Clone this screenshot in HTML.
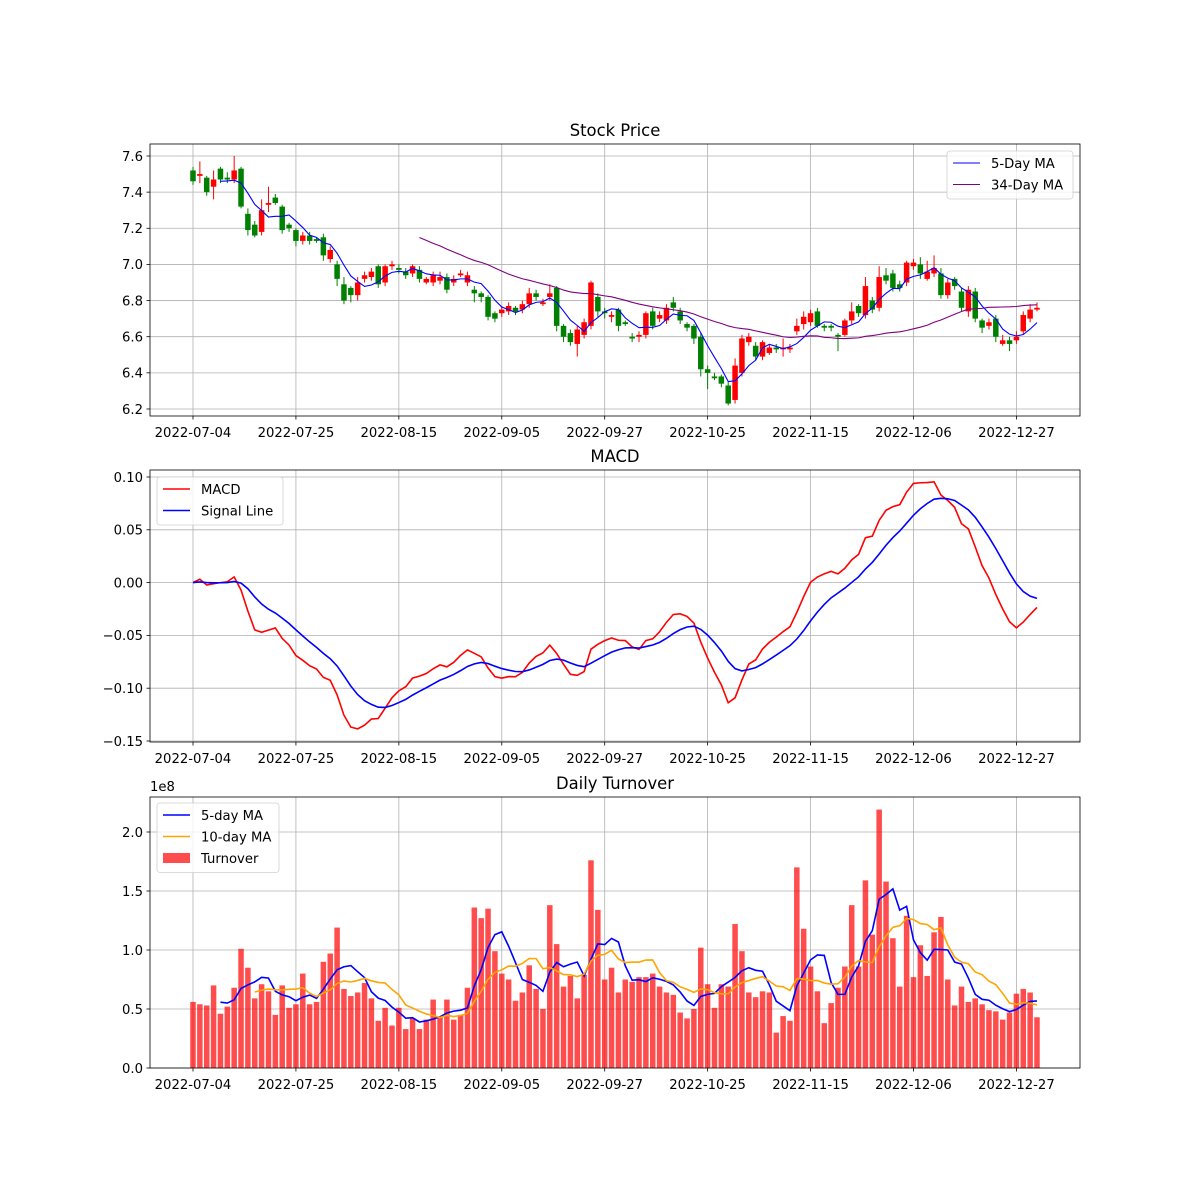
<!DOCTYPE html>
<html><head><meta charset="utf-8"><title>Stock chart</title>
<style>
html,body{margin:0;padding:0;background:#fff;}
svg{display:block;font-family:"DejaVu Sans","Liberation Sans",sans-serif;}
</style></head>
<body>
<svg id="chart" width="1200" height="1200" viewBox="0 0 1200 1200" xmlns="http://www.w3.org/2000/svg"></svg>
<script>
const dateLabels = ["2022-07-04","2022-07-25","2022-08-15","2022-09-05","2022-09-27","2022-10-25","2022-11-15","2022-12-06","2022-12-27"];
const opens = [7.52,7.49,7.48,7.43,7.53,7.48,7.47,7.53,7.28,7.22,
7.18,7.33,7.37,7.32,7.22,7.19,7.13,7.16,7.14,7.15,
7.03,7.00,6.89,6.87,6.83,6.92,6.93,6.99,6.90,6.99,
6.98,6.96,6.95,6.97,6.90,6.90,6.91,6.93,6.90,6.94,
6.90,6.86,6.84,6.82,6.73,6.73,6.74,6.76,6.75,6.78,
6.84,6.78,6.82,6.87,6.66,6.62,6.56,6.61,6.66,6.82,
6.74,6.71,6.75,6.68,6.60,6.60,6.61,6.74,6.70,6.69,
6.79,6.74,6.67,6.66,6.60,6.42,6.38,6.38,6.33,6.25,
6.40,6.57,6.55,6.49,6.51,6.54,6.53,6.53,6.63,6.67,
6.68,6.74,6.66,6.66,6.61,6.61,6.69,6.77,6.72,6.80,
6.76,6.94,6.95,6.89,6.90,6.99,7.00,6.92,6.95,6.95,
6.83,6.92,6.85,6.74,6.85,6.69,6.66,6.70,6.56,6.58,
6.58,6.63,6.70,6.75];
const closes = [7.46,7.50,7.40,7.47,7.47,7.47,7.52,7.32,7.19,7.16,
7.30,7.34,7.34,7.19,7.20,7.13,7.16,7.13,7.13,7.05,
7.08,6.92,6.80,6.83,6.90,6.94,6.96,6.89,6.99,7.00,
6.97,6.94,6.99,6.92,6.92,6.94,6.93,6.86,6.92,6.95,
6.94,6.84,6.82,6.71,6.70,6.75,6.77,6.74,6.78,6.84,
6.82,6.79,6.84,6.66,6.60,6.57,6.64,6.68,6.90,6.74,
6.73,6.72,6.66,6.67,6.59,6.61,6.73,6.66,6.72,6.76,
6.76,6.69,6.65,6.59,6.42,6.40,6.37,6.34,6.23,6.44,
6.59,6.60,6.49,6.57,6.54,6.53,6.54,6.54,6.66,6.71,
6.73,6.66,6.65,6.65,6.60,6.69,6.74,6.73,6.88,6.75,
6.93,6.91,6.87,6.87,7.01,7.01,6.95,6.96,6.98,6.83,
6.90,6.88,6.76,6.86,6.70,6.65,6.68,6.60,6.58,6.56,
6.60,6.72,6.75,6.76];
const highs = [7.54,7.57,7.49,7.52,7.54,7.51,7.60,7.54,7.31,7.24,
7.36,7.43,7.39,7.33,7.23,7.20,7.18,7.18,7.15,7.17,
7.10,7.02,6.93,6.88,6.93,6.96,6.98,7.00,7.00,7.02,
7.00,6.98,7.00,6.99,6.93,6.96,6.96,6.95,6.94,6.97,
6.96,6.88,6.85,6.83,6.74,6.77,6.79,6.77,6.80,6.87,
6.86,6.81,6.89,6.88,6.67,6.64,6.66,6.70,6.91,6.84,
6.76,6.74,6.76,6.69,6.62,6.63,6.74,6.76,6.74,6.78,
6.82,6.76,6.68,6.67,6.62,6.44,6.40,6.39,6.35,6.48,
6.61,6.62,6.57,6.58,6.56,6.56,6.59,6.56,6.70,6.74,
6.75,6.76,6.67,6.67,6.62,6.70,6.79,6.78,6.93,6.82,
6.99,6.98,6.97,6.91,7.02,7.03,7.04,7.02,7.05,6.98,
6.92,6.93,6.87,6.88,6.87,6.70,6.70,6.72,6.61,6.60,
6.63,6.74,6.78,6.79];
const lows = [7.44,7.45,7.38,7.36,7.45,7.45,7.45,7.31,7.16,7.15,
7.16,7.29,7.33,7.17,7.18,7.10,7.11,7.11,7.12,7.02,
7.01,6.88,6.78,6.79,6.80,6.90,6.91,6.87,6.88,6.97,
6.95,6.92,6.93,6.90,6.89,6.88,6.89,6.84,6.88,6.93,
6.88,6.79,6.79,6.69,6.68,6.71,6.72,6.72,6.73,6.76,
6.80,6.77,6.80,6.63,6.57,6.55,6.49,6.59,6.64,6.71,
6.70,6.68,6.63,6.66,6.57,6.57,6.59,6.64,6.68,6.67,
6.74,6.67,6.63,6.56,6.38,6.31,6.36,6.32,6.22,6.23,
6.38,6.55,6.47,6.47,6.50,6.51,6.49,6.51,6.61,6.64,
6.66,6.65,6.63,6.63,6.52,6.60,6.67,6.71,6.70,6.73,
6.74,6.89,6.85,6.85,6.88,6.97,6.92,6.91,6.93,6.81,
6.81,6.86,6.74,6.71,6.68,6.62,6.64,6.57,6.55,6.52,
6.56,6.61,6.68,6.74];
const turnover = [0.56,0.54,0.53,0.70,0.46,0.52,0.68,1.01,0.85,0.59,
0.71,0.65,0.45,0.70,0.51,0.54,0.80,0.54,0.56,0.90,
0.97,1.19,0.67,0.61,0.64,0.72,0.59,0.40,0.51,0.36,
0.51,0.33,0.42,0.33,0.41,0.58,0.43,0.58,0.41,0.45,
0.68,1.36,1.27,1.35,0.99,0.80,0.75,0.57,0.64,0.87,
0.67,0.50,1.38,1.05,0.69,0.78,0.59,0.79,1.76,1.34,
0.75,0.85,0.64,0.75,0.73,0.77,0.77,0.80,0.69,0.64,
0.62,0.47,0.42,0.50,1.02,0.71,0.51,0.71,0.69,1.22,
0.99,0.64,0.60,0.65,0.64,0.30,0.44,0.40,1.70,1.18,
0.86,0.65,0.38,0.55,0.68,0.86,1.38,0.86,1.59,1.13,
2.19,1.58,1.10,0.69,1.29,0.77,1.04,0.78,1.15,1.28,
0.75,0.53,0.69,0.56,0.59,0.54,0.49,0.48,0.41,0.47,
0.63,0.67,0.64,0.43];
const priceTicks = [6.2,6.4,6.6,6.8,7.0,7.2,7.4,7.6];
const macdTicks = [-0.15,-0.10,-0.05,0.00,0.05,0.10];
const turnTicks = [0.0,0.5,1.0,1.5,2.0];

const svg = document.getElementById('chart');
const NS = 'http://www.w3.org/2000/svg';
function mk(tag, attrs, parent){
  const e = document.createElementNS(NS, tag);
  for (const k in attrs) e.setAttribute(k, attrs[k]);
  (parent||svg).appendChild(e);
  return e;
}
const L = 150, R = 1080;
const x = i => 193 + i * (823.4/120);
const yP = p => 156 + (7.6 - p) * 180.7;
const yM = v => 477 + (0.1 - v) * 1056;
const yT = v => 1068 - v * 118;

function rolling(arr, n){
  return arr.map((_, i) => i < n-1 ? null : arr.slice(i-n+1, i+1).reduce((a,b)=>a+b,0)/n);
}
function ema(arr, span){
  const a = 2/(span+1); const out = [arr[0]];
  for (let i=1;i<arr.length;i++) out.push(a*arr[i] + (1-a)*out[i-1]);
  return out;
}
function pathOf(vals, yf){
  let d=''; vals.forEach((v,i)=>{ if(v===null) return; d += (d?'L':'M') + x(i).toFixed(2)+','+yf(v).toFixed(2); });
  return d;
}
function axesFrame(top, bot, name, title, yticks, yf, fmt){
  const g = mk('g', {});
  
  
  // grid
  dateLabels.forEach((lab, k) => {
    const gx = x(k*15);
    const gl = mk('line', {x1:gx, x2:gx, y1:top, y2:bot, stroke:'#b0b0b0', 'stroke-width':0.8}, g);
    
    
    const tk = mk('line', {x1:gx, x2:gx, y1:bot, y2:bot+3.5, stroke:'#000', 'stroke-width':0.8}, g);
    
    
    const t = mk('text', {x:gx, y:bot+21, 'text-anchor':'middle', 'font-size':13.2, fill:'#000'}, g);
    t.textContent = lab;
    
    
  });
  yticks.forEach(v => {
    const gy = yf(v);
    const gl = mk('line', {x1:L, x2:R, y1:gy, y2:gy, stroke:'#b0b0b0', 'stroke-width':0.8}, g);
    
    
    const tk = mk('line', {x1:L-3.5, x2:L, y1:gy, y2:gy, stroke:'#000', 'stroke-width':0.8}, g);
    
    
    const t = mk('text', {x:L-7, y:gy+4.8, 'text-anchor':'end', 'font-size':13.2, fill:'#000'}, g);
    t.textContent = fmt(v);
    
    
  });
  const tt = mk('text', {x:(L+R)/2, y:top-8, 'text-anchor':'middle', 'font-size':16.4, fill:'#000'}, g);
  tt.textContent = title;
  
  
  return g;
}
function frameBorder(top, bot){
  const r = mk('rect', {x:L, y:top, width:R-L, height:bot-top, fill:'none', stroke:'#000', 'stroke-width':0.8});
  
  
}
function legend(x0, y0, w, entries, name){
  const g = mk('g', {});
  
  
  const box = mk('rect', {x:x0, y:y0, width:w, height:entries.length*21.5+5, rx:3, fill:'#fff', 'fill-opacity':0.8, stroke:'#d0d0d0', 'stroke-width':0.8}, g);
  
  
  entries.forEach((en, k) => {
    const cy = y0 + 12 + k*21.5;
    let sw;
    if (en.bar) sw = mk('rect', {x:x0+6, y:cy-5, width:27, height:10, fill:en.color, 'fill-opacity':0.7}, g);
    else sw = mk('line', {x1:x0+6, x2:x0+33, y1:cy, y2:cy, stroke:en.color, 'stroke-width':en.w}, g);
    
    
    const t = mk('text', {x:x0+44, y:cy+5, 'font-size':13.2, fill:'#000'}, g);
    t.textContent = en.label;
    
    
  });
}

// ---------- Price panel ----------
const P_TOP = 144, P_BOT = 416;
axesFrame(P_TOP, P_BOT, 'price-axes', 'Stock Price', priceTicks, yP, v => v.toFixed(1));
const candles = mk('g', {});


opens.forEach((o, i) => {
  const c = closes[i];
  const col = c >= o ? '#ff0000' : '#008000';
  const wk = mk('line', {x1:x(i), x2:x(i), y1:yP(highs[i]), y2:yP(lows[i]), stroke:col, 'stroke-width':1}, candles);
  
  
  const top = yP(Math.max(o,c)), bot = yP(Math.min(o,c));
  const b = mk('rect', {x:x(i)-2.75, y:top, width:5.5, height:Math.max(bot-top,1), fill:col}, candles);
  
  
});
const ma5 = rolling(closes, 5), ma34 = rolling(closes, 34);
const l5 = mk('path', {d:pathOf(ma5, yP), fill:'none', stroke:'#0000ff', 'stroke-width':1.1});


const l34 = mk('path', {d:pathOf(ma34, yP), fill:'none', stroke:'#800080', 'stroke-width':1.1});


frameBorder(P_TOP, P_BOT);
legend(947, 151, 126, [{label:'5-Day MA', color:'#0000ff', w:1.1},{label:'34-Day MA', color:'#800080', w:1.1}], 'price-legend');

// ---------- MACD panel ----------
const M_TOP = 470, M_BOT = 742;
axesFrame(M_TOP, M_BOT, 'macd-axes', 'MACD', macdTicks, yM, v => (v<0?'\u2212':'') + Math.abs(v).toFixed(2));
const macd = ema(closes, 12).map((v,i) => v - ema(closes, 26)[i]);
const signal = ema(macd, 9);
const lm = mk('path', {d:pathOf(macd, yM), fill:'none', stroke:'#ff0000', 'stroke-width':1.6});


const ls = mk('path', {d:pathOf(signal, yM), fill:'none', stroke:'#0000ff', 'stroke-width':1.6});


frameBorder(M_TOP, M_BOT);
legend(157, 477, 126, [{label:'MACD', color:'#ff0000', w:1.6},{label:'Signal Line', color:'#0000ff', w:1.6}], 'macd-legend');

// ---------- Turnover panel ----------
const T_TOP = 797, T_BOT = 1068;
axesFrame(T_TOP, T_BOT, 'turnover-axes', 'Daily Turnover', turnTicks, yT, v => v.toFixed(1));
const off = mk('text', {x:150, y:791, 'font-size':13.2, fill:'#000'});
off.textContent = '1e8';


const bars = mk('g', {});


turnover.forEach((v, i) => {
  const b = mk('rect', {x:x(i)-2.75, y:yT(v), width:5.5, height:yT(0)-yT(v), fill:'#ff0000', 'fill-opacity':0.7}, bars);
  
  
});
const t5 = mk('path', {d:pathOf(rolling(turnover,5), yT), fill:'none', stroke:'#0000ff', 'stroke-width':1.6});


const t10 = mk('path', {d:pathOf(rolling(turnover,10), yT), fill:'none', stroke:'#ffa500', 'stroke-width':1.6});


frameBorder(T_TOP, T_BOT);
legend(157, 803, 122, [{label:'5-day MA', color:'#0000ff', w:1.6},{label:'10-day MA', color:'#ffa500', w:1.6},{label:'Turnover', color:'#ff0000', bar:true}], 'turnover-legend');
</script>
</body></html>
